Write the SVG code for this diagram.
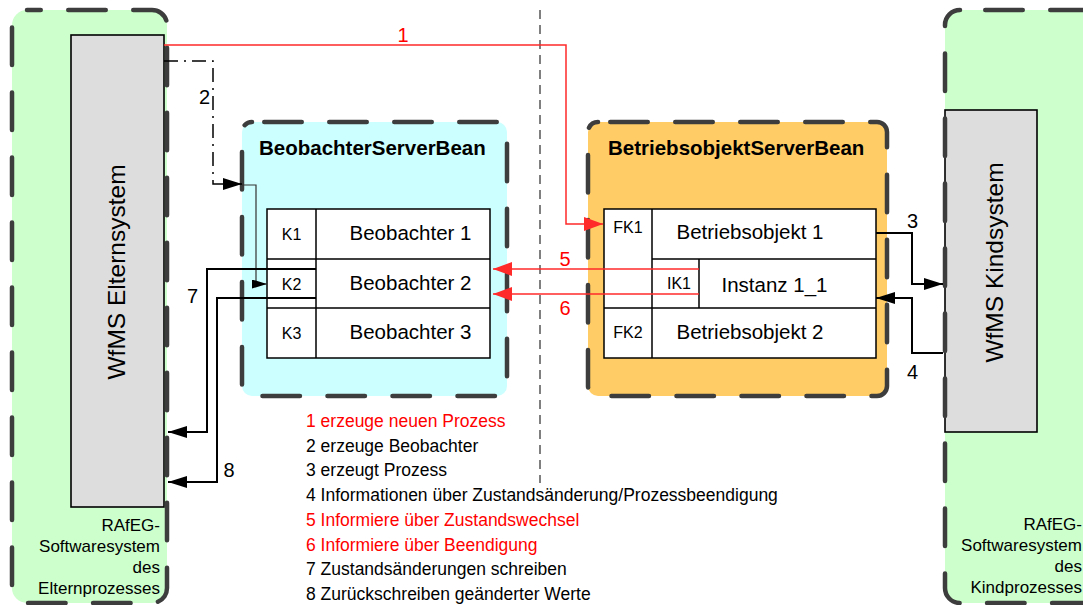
<svg xmlns="http://www.w3.org/2000/svg" width="1083" height="605" viewBox="0 0 1083 605">
  <defs>
    <style>
      text { font-family: "Liberation Sans", Arial, Helvetica, sans-serif; fill: #000; }
      .frame { fill: none; stroke: #3d3d3d; stroke-width: 4.5; stroke-dasharray: 37.5 27.5; stroke-linecap: round; }
      .sys { fill: #dddddd; stroke: #000; stroke-width: 1.6; }
      .sysname { font-size: 24.5px; text-anchor: middle; }
      .caption { font-size: 17px; text-anchor: end; }
      .title { font-size: 20.5px; font-weight: bold; }
      .cell { fill: #fff; stroke: #000; stroke-width: 1.5; }
      .grid { fill: none; stroke: #000; stroke-width: 1.5; }
      .key { font-size: 16px; text-anchor: middle; }
      .item { font-size: 20.5px; text-anchor: middle; }
      .flow { fill: none; stroke: #000; stroke-width: 2; }
      .thin { fill: none; stroke: #333; stroke-width: 1.2; }
      .dashdot { fill: none; stroke: #000; stroke-width: 1.5; stroke-dasharray: 14 6 2 6; }
      .red { fill: none; stroke: #ff2a2a; stroke-width: 1.5; }
      .num { font-size: 20px; text-anchor: middle; }
      .legend { font-size: 17.5px; }
      .hot { fill: #ff0000; }
      .divider { fill: none; stroke: #555; stroke-width: 1.5; stroke-dasharray: 9 6; }
    </style>
    <marker id="arrow" viewBox="0 0 19 12" refX="19" refY="6" markerWidth="19" markerHeight="12" markerUnits="userSpaceOnUse" orient="auto">
      <path d="M0,0 L19,6 L0,12 Z" fill="#000"/>
    </marker>
    <marker id="arrow-sm" viewBox="0 0 15 9" refX="15" refY="4.5" markerWidth="15" markerHeight="9" markerUnits="userSpaceOnUse" orient="auto">
      <path d="M0,0 L15,4.5 L0,9 Z" fill="#000"/>
    </marker>
    <marker id="arrow-red" viewBox="0 0 19 14" refX="19" refY="7" markerWidth="19" markerHeight="14" markerUnits="userSpaceOnUse" orient="auto">
      <path d="M0,0 L19,7 L0,14 Z" fill="#ff2a2a"/>
    </marker>
  </defs>

  <!-- parent process software system -->
  <g id="eltern-system">
    <rect x="12" y="10" width="155" height="593" rx="15" fill="#ccffcc"/>
    <rect class="sys" x="71" y="35" width="93" height="472"/>
    <text class="sysname" x="125" y="272" transform="rotate(-90 125 272)">WfMS Elternsystem</text>
    <path class="frame" style="stroke-dashoffset:23.75" d="M27,10 H152 A15,15 0 0 1 167,25 V588 A15,15 0 0 1 152,603 H27 A15,15 0 0 1 12,588 V25 A15,15 0 0 1 27,10 Z"/>
    <text class="caption" x="160" y="531">RAfEG-</text>
    <text class="caption" x="160" y="552">Softwaresystem</text>
    <text class="caption" x="160" y="573">des</text>
    <text class="caption" x="160" y="593.5">Elternprozesses</text>
  </g>

  <!-- child process software system -->
  <g id="kind-system">
    <rect x="945" y="10" width="160" height="593" rx="15" fill="#ccffcc"/>
    <rect class="sys" x="945" y="110" width="92" height="322"/>
    <text class="sysname" x="1003" y="262.5" transform="rotate(-90 1003 262.5)">WfMS Kindsystem</text>
    <path class="frame" style="stroke-dashoffset:39.75" d="M960,10 H1090 A15,15 0 0 1 1105,25 V588 A15,15 0 0 1 1090,603 H960 A15,15 0 0 1 945,588 V25 A15,15 0 0 1 960,10 Z"/>
    <text class="caption" x="1082" y="530">RAfEG-</text>
    <text class="caption" x="1082" y="551">Softwaresystem</text>
    <text class="caption" x="1082" y="572">des</text>
    <text class="caption" x="1082" y="593">Kindprozesses</text>
  </g>

  <!-- observer bean -->
  <g id="beobachter-server-bean">
    <rect x="242" y="122" width="265" height="274" rx="10" fill="#ccffff"/>
    <path class="frame" style="stroke-dashoffset:52.75" d="M252,122 H497 A10,10 0 0 1 507,132 V386 A10,10 0 0 1 497,396 H252 A10,10 0 0 1 242,386 V132 A10,10 0 0 1 252,122 Z"/>
    <text class="title" x="259" y="155">BeobachterServerBean</text>
    <rect class="cell" x="267" y="209" width="223" height="149"/>
    <path class="grid" d="M267,259 H490 M267,308 H490 M316,209 V358"/>
    <text class="key" x="291.5" y="240">K1</text>
    <text class="key" x="291.5" y="290">K2</text>
    <text class="key" x="291.5" y="339">K3</text>
    <text class="item" x="410.5" y="240">Beobachter 1</text>
    <text class="item" x="410.5" y="290">Beobachter 2</text>
    <text class="item" x="410.5" y="339">Beobachter 3</text>
  </g>

  <!-- business object bean -->
  <g id="betriebsobjekt-server-bean">
    <rect x="588" y="122" width="299" height="274" rx="10" fill="#ffcc66"/>
    <path class="frame" style="stroke-dashoffset:52.75" d="M598,122 H877 A10,10 0 0 1 887,132 V386 A10,10 0 0 1 877,396 H598 A10,10 0 0 1 588,386 V132 A10,10 0 0 1 598,122 Z"/>
    <text class="title" x="608" y="155">BetriebsobjektServerBean</text>
    <rect class="cell" x="604" y="209" width="272" height="149"/>
    <path class="grid" d="M652,209 V358 M652,259 H876 M604,308 H876 M699,259 V308"/>
    <text class="key" x="628" y="233">FK1</text>
    <text class="key" x="679" y="289">IK1</text>
    <text class="key" x="628" y="338">FK2</text>
    <text class="item" x="750" y="239">Betriebsobjekt 1</text>
    <text class="item" x="774.5" y="292">Instanz 1_1</text>
    <text class="item" x="750" y="339">Betriebsobjekt 2</text>
  </g>

  <!-- boundary between the two systems -->
  <g id="divider">
    <line class="divider" x1="540" y1="10" x2="540" y2="483"/>
  </g>

  <!-- message flows -->
  <g id="connectors">
    <path id="c1" class="red" d="M164,45 H566 V224 H603" marker-end="url(#arrow-red)"/>
    <text class="num hot" x="403" y="42">1</text>

    <path id="c2" class="dashdot" d="M164,61 H213 V184 H242" marker-end="url(#arrow)"/>
    <path id="c2b" class="thin" d="M242,185 H256 V284 H267" marker-end="url(#arrow-sm)"/>
    <text class="num" x="204.5" y="104">2</text>

    <path id="c3" class="flow" d="M876,233 H912 V284 H943" marker-end="url(#arrow)"/>
    <text class="num" x="912.5" y="228">3</text>

    <path id="c4" class="flow" d="M943,353 H912 V298 H876" marker-end="url(#arrow)"/>
    <text class="num" x="912.5" y="379">4</text>

    <path id="c5" class="red" d="M699,269 H493" marker-end="url(#arrow-red)"/>
    <text class="num hot" x="565" y="266">5</text>

    <path id="c6" class="red" d="M699,294 H493" marker-end="url(#arrow-red)"/>
    <text class="num hot" x="565" y="315">6</text>

    <path id="c7" class="flow" d="M316,269 H207 V432 H168" marker-end="url(#arrow)"/>
    <text class="num" x="192.5" y="303">7</text>

    <path id="c8" class="flow" d="M316,298 H217 V482 H168" marker-end="url(#arrow)"/>
    <text class="num" x="229" y="477">8</text>
  </g>

  <!-- key to the numbered flows -->
  <g id="legend">
    <text class="legend hot" x="306" y="427">1 erzeuge neuen Prozess</text>
    <text class="legend" x="306" y="451.7">2 erzeuge Beobachter</text>
    <text class="legend" x="306" y="476.4">3 erzeugt Prozess</text>
    <text class="legend" x="306" y="501.1">4 Informationen über Zustandsänderung/Prozessbeendigung</text>
    <text class="legend hot" x="306" y="525.8">5 Informiere über Zustandswechsel</text>
    <text class="legend hot" x="306" y="550.5">6 Informiere über Beendigung</text>
    <text class="legend" x="306" y="575.2">7 Zustandsänderungen schreiben</text>
    <text class="legend" x="306" y="599.9">8 Zurückschreiben geänderter Werte</text>
  </g>
</svg>
